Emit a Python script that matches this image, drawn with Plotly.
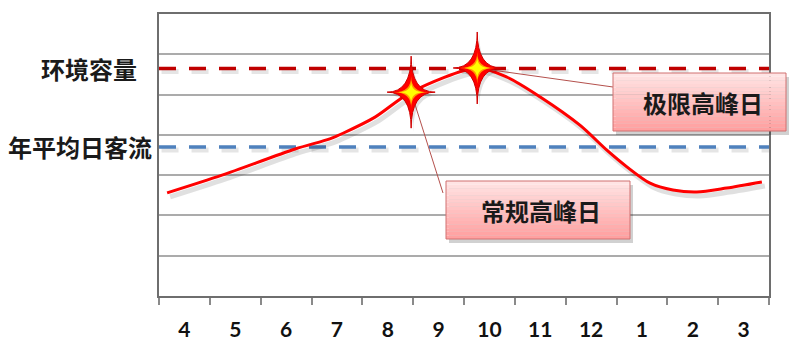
import plotly.graph_objects as go

# ---------------- data ----------------
months = ["4", "5", "6", "7", "8", "9", "10", "11", "12", "1", "2", "3"]
capacity = 5.65          # 环境容量
avg_daily = 3.70         # 年平均日客流
curve_x = [0.16, 1.24, 2.68, 3.36, 3.62, 4.25, 4.96, 6.26, 6.85, 7.50, 8.28, 8.81, 9.21, 9.66, 10.11, 10.58, 11.17, 11.86]
curve_y = [2.56, 3.00, 3.65, 3.90, 4.04, 4.44, 5.06, 5.66, 5.43, 4.94, 4.24, 3.62, 3.20, 2.80, 2.63, 2.58, 2.68, 2.83]
peak_names = ["常规高峰日", "极限高峰日"]
peak_x = [4.96, 6.26]
peak_y = [5.06, 5.66]
level_names = ["环境容量", "年平均日客流"]

# ---------------- layout geometry ----------------
W, H = 789, 342
ML, MR, MT, MB = 159, 20, 14, 46
PW, PH = W - ML - MR, H - MT - MB
XR = [0, len(months)]
YR = [0, 7]
px_per_x = PW / (XR[1] - XR[0])
px_per_y = PH / (YR[1] - YR[0])

fig = go.Figure()

# dashed reference lines (with soft shadow)
for val, col in [(capacity, "#c00000"), (avg_daily, "#4f81bd")]:
    fig.add_trace(go.Scatter(x=[XR[0] + 0.05, XR[1] + 0.05], y=[val - 3 / px_per_y] * 2, mode="lines",
                             line=dict(color="rgba(0,0,0,0.10)", width=5, dash="17px,13px"),
                             hoverinfo="skip", showlegend=False))
    fig.add_trace(go.Scatter(x=[XR[0], XR[1]], y=[val, val], mode="lines",
                             line=dict(color=col, width=3.5, dash="17px,13px"),
                             hoverinfo="skip", showlegend=False))

# curve shadow + curve
fig.add_trace(go.Scatter(x=[v + 3 / px_per_x for v in curve_x], y=[v - 4 / px_per_y for v in curve_y],
                         mode="lines", line=dict(color="rgba(0,0,0,0.12)", width=5, shape="spline", smoothing=0.8),
                         hoverinfo="skip", showlegend=False))
fig.add_trace(go.Scatter(x=curve_x, y=curve_y, mode="lines",
                         line=dict(color="#ff0000", width=3, shape="spline", smoothing=0.8),
                         hoverinfo="skip", showlegend=False))

shapes = []


def star_path(cx, cy, rx_px, ry_px):
    rx = rx_px / px_per_x
    ry = ry_px / px_per_y
    t = (cx, cy + ry)
    r = (cx + rx, cy)
    b = (cx, cy - ry)
    l = (cx - rx, cy)
    c = (cx, cy)
    pts = [t, r, b, l, t]
    p = f"M {t[0]},{t[1]}"
    for q in pts[1:]:
        p += f" Q {c[0]},{c[1]} {q[0]},{q[1]}"
    return p + " Z"


def to_paper(x, y):
    return (x - XR[0]) / (XR[1] - XR[0]), (y - YR[0]) / (YR[1] - YR[0])


def px_to_paper(px, py):
    return (px - ML) / PW, (H - MB - py) / PH


boxes = {
    "常规高峰日": (446, 181, 630, 239, (443, 193)),
    "极限高峰日": (613, 73, 786, 131, (613, 87)),
}

# leader lines
for name, xv, yv in zip(peak_names, peak_x, peak_y):
    x0p, y0p = to_paper(xv, yv)
    bx0, by0, bx1, by1, anchor = boxes[name]
    ax, ay = px_to_paper(*anchor)
    shapes.append(dict(type="line", xref="paper", yref="paper", x0=x0p, y0=y0p, x1=ax, y1=ay,
                       line=dict(color="#b4504c", width=1), layer="above"))

# stars
for xv, yv in zip(peak_x, peak_y):
    shapes.append(dict(type="path", xref="x", yref="y", path=star_path(xv + 2 / px_per_x, yv - 3 / px_per_y, 25, 37),
                       fillcolor="rgba(0,0,0,0.12)", line=dict(width=0), layer="above"))
    shapes.append(dict(type="path", xref="x", yref="y", path=star_path(xv, yv, 24, 36),
                       fillcolor="#ff0000", line=dict(color="#d00000", width=1), layer="above"))
    shapes.append(dict(type="path", xref="x", yref="y", path=star_path(xv, yv, 17, 16),
                       fillcolor="#ff9a00", line=dict(width=0), layer="above"))
    shapes.append(dict(type="path", xref="x", yref="y", path=star_path(xv, yv, 13, 11),
                       fillcolor="#ffff00", line=dict(width=0), layer="above"))

annotations = []
# callout boxes with vertical gradient
for name in peak_names:
    bx0, by0, bx1, by1, _ = boxes[name]
    sx0, sy0 = px_to_paper(bx0 + 3, by1 + 4)
    sx1, sy1 = px_to_paper(bx1 + 3, by0 + 4)
    shapes.append(dict(type="rect", xref="paper", yref="paper", x0=sx0, y0=sy0, x1=sx1, y1=sy1,
                       fillcolor="rgba(0,0,0,0.18)", line=dict(width=0), layer="above"))
    n = 16
    top_c = (255, 228, 228)
    bot_c = (255, 160, 160)
    for i in range(n):
        f = i / (n - 1)
        col = tuple(int(top_c[k] + (bot_c[k] - top_c[k]) * f) for k in range(3))
        ya = by0 + (by1 - by0) * i / n
        yb = by0 + (by1 - by0) * (i + 1) / n
        xa, ya_p = px_to_paper(bx0, yb)
        xb, yb_p = px_to_paper(bx1, ya)
        shapes.append(dict(type="rect", xref="paper", yref="paper", x0=xa, y0=ya_p, x1=xb, y1=yb_p,
                           fillcolor=f"rgb{col}", line=dict(width=0), layer="above"))
    xa, ya_p = px_to_paper(bx0, by1)
    xb, yb_p = px_to_paper(bx1, by0)
    shapes.append(dict(type="rect", xref="paper", yref="paper", x0=xa, y0=ya_p, x1=xb, y1=yb_p,
                       fillcolor="rgba(0,0,0,0)", line=dict(color="#d07070", width=1), layer="above"))
    cxp, cyp = px_to_paper((bx0 + bx1) / 2 + 3, (by0 + by1) / 2)
    annotations.append(dict(x=cxp, y=cyp, xref="paper", yref="paper", text=name, showarrow=False,
                            xanchor="center", yanchor="middle",
                            font=dict(family="Noto Sans CJK SC", size=24, color="#1a1a1a", weight="bold")))

# level labels on the left
for name, val, right_px in zip(level_names, [capacity, avg_daily], [139, 154]):
    xp, _ = px_to_paper(right_px, 0)
    annotations.append(dict(x=xp, y=val, xref="paper", yref="y", text=name, showarrow=False,
                            xanchor="right", yanchor="middle",
                            font=dict(family="Noto Sans CJK SC", size=24, color="#1a1a1a", weight="bold")))

fig.update_layout(
    width=W, height=H,
    margin=dict(l=ML, r=MR, t=MT, b=MB, pad=0, autoexpand=False),
    paper_bgcolor="white", plot_bgcolor="white",
    showlegend=False,
    shapes=shapes,
    annotations=annotations,
    xaxis=dict(range=XR, tickmode="array", tickvals=[i + 0.5 for i in range(len(months))], ticktext=months,
               ticks="outside", ticklen=0, tickcolor="rgba(0,0,0,0)", ticklabelstandoff=14,
               showgrid=False, zeroline=False, automargin=False,
               showline=True, linecolor="#6e6e6e", linewidth=1.5, mirror=True,
               tickfont=dict(family="Lato", size=21, color="#111111", weight="bold"),
               minor=dict(tickmode="array", tickvals=list(range(len(months) + 1)), ticks="outside",
                          ticklen=7, tickcolor="#8a8a8a", tickwidth=1.5, showgrid=False)),
    yaxis=dict(range=YR, tickmode="array", tickvals=[], showticklabels=False, ticks="",
               showgrid=False, zeroline=False, automargin=False,
               showline=True, linecolor="#6e6e6e", linewidth=1.5, mirror=True,
               minor=dict(tickmode="array", tickvals=list(range(1, 7)), ticks="", showgrid=True,
                          gridcolor="#ababab", gridwidth=1.5)),
)

fig.write_html("out.html")
